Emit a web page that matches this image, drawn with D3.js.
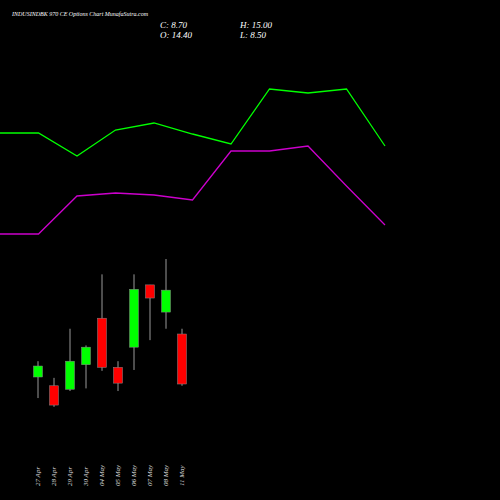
<!DOCTYPE html>
<html><head><meta charset="utf-8">
<script src="https://cdn.jsdelivr.net/npm/d3@7"></script>
<style>body{margin:0;background:#000}</style>
</head><body><div id="chart"></div>
<script>
const dates = ["27 Apr","28 Apr","29 Apr","30 Apr","04 May","05 May","06 May","07 May","08 May","11 May"];
const opens = [9.5, 8.5, 8.1, 10.9, 16.2, 10.6, 12.9, 20.0, 16.9, 14.4];
const closes = [10.75, 6.3, 11.3, 12.9, 10.6, 8.8, 19.5, 18.5, 19.4, 8.7];
const highs = [11.3, 9.4, 15.0, 13.1, 21.2, 11.3, 21.2, 20.0, 22.95, 15.0];
const lows = [7.1, 6.1, 7.9, 8.2, 10.2, 7.9, 10.3, 13.7, 15.0, 8.5];
// upper panel lines (relative levels)
const greenLine = [367, 367, 344, 370, 377, 366, 356, 411, 407, 411, 354];
const purpleLine = [266, 266, 304, 307, 305, 300, 349, 349, 354, 314, 275];

const W = 500, H = 500;
const svg = d3.select("#chart").append("svg").attr("width", W).attr("height", H)
    .style("background", "#000");

const x = d3.scaleLinear().domain([0, dates.length - 1]).range([38, 182]);
const y = d3.scaleLinear().domain([6.08, 22.95]).range([407, 259]);
const lx = d3.scaleLinear().domain([0, greenLine.length - 1]).range([0, 385]);
const ly = d3.scaleLinear().domain([0, 500]).range([500, 0]);

const line = d3.line().x((d, i) => lx(i)).y(d => ly(d));
svg.append("path").datum(greenLine).attr("d", line)
    .attr("fill", "none").attr("stroke", "#00ff00").attr("stroke-width", 1.3);
svg.append("path").datum(purpleLine).attr("d", line)
    .attr("fill", "none").attr("stroke", "#cc00cc").attr("stroke-width", 1.3);

const g = svg.append("g");
dates.forEach((d, i) => {
    const up = closes[i] >= opens[i];
    g.append("line").attr("x1", x(i)).attr("x2", x(i))
        .attr("y1", y(highs[i])).attr("y2", y(lows[i]))
        .attr("stroke", "#999").attr("stroke-width", 1);
    g.append("rect").attr("x", x(i) - 4.5).attr("width", 9)
        .attr("y", y(Math.max(opens[i], closes[i])))
        .attr("height", Math.max(1, Math.abs(y(opens[i]) - y(closes[i]))))
        .attr("fill", up ? "#00ff00" : "#ff0000")
        .attr("stroke", "#888").attr("stroke-width", 0.5);
    g.append("text").attr("transform", `translate(${x(i) + 2},486) rotate(-90)`)
        .attr("fill", "#ddd").attr("font-family", "Liberation Serif, serif")
        .attr("font-style", "italic").attr("font-size", 7).text(d);
});

svg.append("text").attr("x", 12).attr("y", 16).attr("fill", "#fff")
    .attr("font-family", "Liberation Serif, serif").attr("font-style", "italic")
    .attr("font-size", 6).text("INDUSINDBK 970  CE Options  Chart MunafaSutra.com");
const info = [["C: 8.70", 160, 28], ["O: 14.40", 160, 38], ["H: 15.00", 240, 28], ["L: 8.50", 240, 38]];
info.forEach(t => svg.append("text").attr("x", t[1]).attr("y", t[2]).attr("fill", "#fff")
    .attr("font-family", "Liberation Serif, serif").attr("font-style", "italic")
    .attr("font-size", 9).text(t[0]));
</script></body></html>
